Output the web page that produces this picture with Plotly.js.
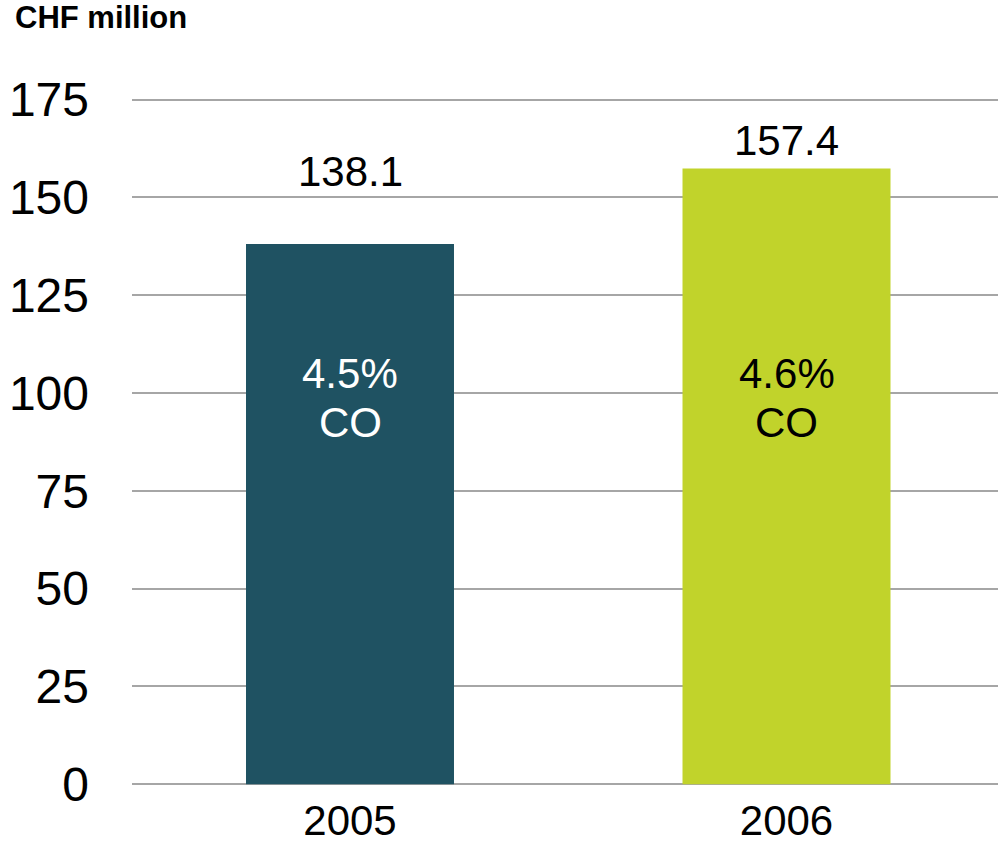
<!DOCTYPE html>
<html>
<head>
<meta charset="utf-8">
<script src="https://cdn.plot.ly/plotly-3.0.1.min.js"></script>
<style>html,body{margin:0;padding:0;background:#fff;}#chart{width:998px;height:842px;}</style>
</head>
<body>
<div id="chart"></div>
<script>
// Data
const years = ['2005', '2006'];
const values = [138.1, 157.4];
const valueLabels = ['138.1', '157.4'];
const shareLabels = ['4.5%', '4.6%'];
const innerWord = ['CO', 'CO'];
const yTicks = [0, 25, 50, 75, 100, 125, 150, 175];

// Styles
const barColors = ['#1F5262', '#C1D32B'];
const innerTextColors = ['#FFFFFF', '#000000'];
const labelShift = [72, 28];
const FONT = 'Arial, "Liberation Sans", sans-serif';

const trace = {
  type: 'bar',
  x: years,
  y: values,
  width: 0.4765,
  marker: {color: barColors, line: {width: 0}},
  hoverinfo: 'skip'
};

const annotations = [];
years.forEach((yr, i) => {
  annotations.push({
    x: i, y: values[i], xref: 'x', yref: 'y',
    text: valueLabels[i], showarrow: false,
    yshift: labelShift[i],
    font: {family: FONT, size: 42, color: '#000000'}
  });
  annotations.push({
    x: i, y: 98.6, xref: 'x', yref: 'y',
    text: shareLabels[i], showarrow: false,
    yshift: 24.5,
    font: {family: FONT, size: 42, color: innerTextColors[i]}
  });
  annotations.push({
    x: i, y: 98.6, xref: 'x', yref: 'y',
    text: innerWord[i], showarrow: false,
    yshift: -24.5,
    font: {family: FONT, size: 42, color: innerTextColors[i]}
  });
});

const layout = {
  width: 998, height: 842,
  margin: {l: 132, r: 0, t: 80.4, b: 50.2, pad: 0},
  paper_bgcolor: '#fff', plot_bgcolor: '#fff',
  showlegend: false,
  title: {
    text: '<b>CHF million</b>',
    xref: 'container', yref: 'container',
    x: 15/998, xanchor: 'left',
    y: 1 - 17/842, yanchor: 'middle',
    font: {family: FONT, size: 31, color: '#000'}
  },
  xaxis: {
    type: 'category',
    range: [-0.4994, 1.4845],
    showgrid: false, zeroline: false, showline: false,
    ticks: '', ticklabelstandoff: 0,
    tickfont: {family: FONT, size: 42, color: '#000'},
    fixedrange: true
  },
  yaxis: {
    range: [-2, 180],
    tickvals: yTicks,
    ticktext: yTicks.map(String),
    showgrid: true, gridcolor: '#A6A6A6', gridwidth: 1.6,
    zeroline: false, showline: false,
    ticks: '', ticklabelstandoff: 42,
    tickfont: {family: FONT, size: 48, color: '#000'},
    fixedrange: true
  },
  annotations: annotations
};

Plotly.newPlot('chart', [trace], layout, {displayModeBar: false});
</script>
</body>
</html>
